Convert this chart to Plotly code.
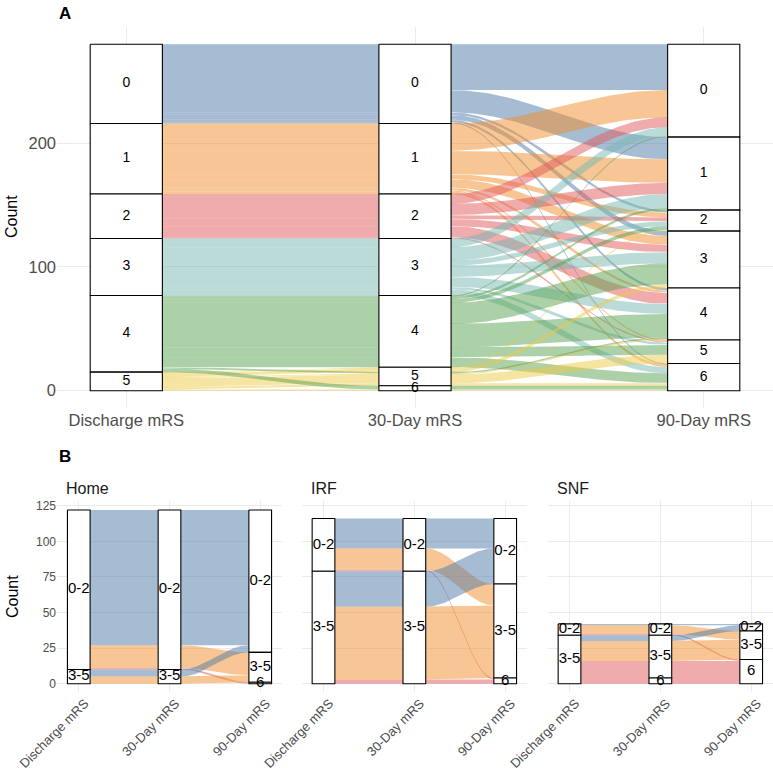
import numpy as np
import plotly.graph_objects as go

W, H = 773, 768

# ---------------- Panel A data (alluvia: discharge -> 30-day -> 90-day) ----------------
mrs_levels = ["0", "1", "2", "3", "4", "5", "6"]
a_axis_labels = ["Discharge mRS", "30-Day mRS", "90-Day mRS"]
a_discharge = ["0", "0", "0", "0", "0", "0",
               "1", "1", "1", "1", "1", "1", "1",
               "2", "2", "2", "2", "2", "2",
               "3", "3", "3", "3", "3", "3", "3",
               "4", "4", "4", "4", "4", "4", "4",
               "5", "5", "5", "5", "5", "4",
               "4", "5"]
a_day30 = ["0", "0", "0", "0", "0", "0",
           "1", "1", "1", "1", "1", "1", "1",
           "2", "2", "2", "2", "2", "2",
           "3", "3", "3", "3", "3", "3", "3",
           "4", "4", "4", "4", "4", "4", "4",
           "5", "5", "5", "5", "5", "5",
           "6", "6"]
a_day90 = ["0", "1", "2", "3", "4", "6",
           "0", "1", "2", "3", "4", "5", "6",
           "0", "1", "2", "3", "4", "5",
           "0", "1", "2", "3", "4", "5", "6",
           "0", "1", "2", "3", "4", "5", "6",
           "2", "3", "4", "5", "6", "4",
           "6", "6"]
a_count = [37, 18, 2, 4, 2, 1,
           22, 19, 4, 7, 2, 1, 2,
           8, 9, 3, 6, 9, 1,
           7, 11, 4, 9, 8, 2, 5,
           1, 2, 3, 17, 19, 8, 8,
           1, 3, 1, 7, 2, 1,
           3, 1]

# ---------------- Panel B data (by discharge destination) ----------------
grp_levels = ["0-2", "3-5", "6"]
b_facets = ["Home", "IRF", "SNF"]
b_discharge = {
    "Home": ["0-2", "0-2", "0-2", "3-5", "3-5"],
    "IRF": ["0-2", "0-2", "0-2", "3-5", "3-5", "3-5"],
    "SNF": ["0-2", "0-2", "0-2", "3-5", "3-5", "3-5", "3-5"],
}
b_day30 = {
    "Home": ["0-2", "0-2", "0-2", "3-5", "3-5"],
    "IRF": ["0-2", "0-2", "0-2", "3-5", "3-5", "3-5"],
    "SNF": ["0-2", "0-2", "0-2", "3-5", "3-5", "3-5", "6"],
}
b_day90 = {
    "Home": ["0-2", "3-5", "6", "0-2", "3-5"],
    "IRF": ["0-2", "3-5", "6", "0-2", "3-5", "6"],
    "SNF": ["0-2", "3-5", "6", "0-2", "3-5", "6", "6"],
}
b_count = {
    "Home": [95, 16, 1, 5, 5],
    "IRF": [21, 15, 1, 25, 51, 3],
    "SNF": [1, 6, 1, 4, 14, 12, 4],
}

tableau = ["#4E79A7", "#F28E2B", "#E15759", "#76B7B2", "#59A14F", "#EDC948", "#B07AA1"]


def rgba(hexc, a):
    h = hexc.lstrip("#")
    return "rgba(%d,%d,%d,%.2f)" % (int(h[0:2], 16), int(h[2:4], 16), int(h[4:6], 16), a)


BOX_HALF = 0.125


def draw_alluvial(fig, cols, counts, levels, colors, xref, yref, label_size):
    """cols: list of 3 lists (axis values per alluvium)."""
    n_all = len(counts)
    total = sum(counts)
    lvl = {v: i for i, v in enumerate(levels)}
    key_orders = [(0, 1, 2), (1, 2, 0), (2, 1, 0)]
    pos = []
    strata = []
    for ax in range(3):
        order = sorted(range(n_all), key=lambda i: tuple(lvl[cols[k][i]] for k in key_orders[ax]))
        p = [None] * n_all
        y = total
        for i in order:
            p[i] = (y, y - counts[i])
            y -= counts[i]
        pos.append(p)
        st = []
        y = total
        for lv in levels:
            c = sum(counts[i] for i in range(n_all) if cols[ax][i] == lv)
            if c > 0:
                st.append((lv, y, y - c))
                y -= c
        strata.append(st)

    t = np.linspace(0, 1, 60)
    s = (1 - np.cos(np.pi * t)) / 2
    for seg in range(2):
        xa = seg + 1 + BOX_HALF
        xb = seg + 2 - BOX_HALF
        xs = xa + (xb - xa) * t
        for i in range(n_all):
            ta, ba = pos[seg][i]
            tb, bb = pos[seg + 1][i]
            top = ta + (tb - ta) * s
            bot = ba + (bb - ba) * s
            x = np.concatenate([[xa - BOX_HALF], xs, [xb + BOX_HALF], [xb + BOX_HALF], xs[::-1], [xa - BOX_HALF]])
            yv = np.concatenate([[ta], top, [tb], [bb], bot[::-1], [ba]])
            fig.add_trace(go.Scatter(
                x=x, y=yv, mode="lines", fill="toself", fillcolor=colors[i],
                line=dict(width=0), hoverinfo="skip", showlegend=False,
                xaxis=xref, yaxis=yref))
    for ax in range(3):
        for lv, top, bot in strata[ax]:
            x0, x1 = ax + 1 - BOX_HALF, ax + 1 + BOX_HALF
            fig.add_trace(go.Scatter(
                x=[x0, x1, x1, x0, x0], y=[top, top, bot, bot, top], mode="lines",
                fill="toself", fillcolor="white", line=dict(color="black", width=1.1),
                hoverinfo="skip", showlegend=False, xaxis=xref, yaxis=yref))
    for ax in range(3):
        fig.add_trace(go.Scatter(
            x=[ax + 1] * len(strata[ax]),
            y=[(top + bot) / 2 for _, top, bot in strata[ax]],
            text=[lv for lv, _, _ in strata[ax]], mode="text",
            textfont=dict(size=label_size, color="black", family="Liberation Sans, Arial"),
            hoverinfo="skip", showlegend=False, xaxis=xref, yaxis=yref, cliponaxis=False))


fig = go.Figure()

a_colors = [rgba(tableau[mrs_levels.index(d)], 0.5) for d in a_discharge]
draw_alluvial(fig, [a_discharge, a_day30, a_day90], a_count, mrs_levels, a_colors, "x", "y", 14)

for k, fac in enumerate(b_facets):
    cols_b = [b_discharge[fac], b_day30[fac], b_day90[fac]]
    colors_b = [rgba(tableau[grp_levels.index(d)], 0.5) for d in b_day90[fac]]
    sfx = str(k + 2)
    draw_alluvial(fig, cols_b, b_count[fac], grp_levels, colors_b, "x" + sfx, "y" + sfx, 15)


def px_x(v):
    return v / W


def px_y(v):
    return 1 - v / H


font_fam = "Liberation Sans, Arial, sans-serif"
grid = "#EBEBEB"
tick_col = "#4D4D4D"

layout = dict(
    width=W, height=H, margin=dict(l=0, r=0, t=0, b=0, autoexpand=False),
    paper_bgcolor="white", plot_bgcolor="white",
    font=dict(family=font_fam, color="black"),
    xaxis=dict(domain=[px_x(57), 1.0], range=[0.76, 3.24], tickvals=[1, 2, 3],
               ticktext=a_axis_labels, showgrid=True, gridcolor=grid, zeroline=False,
               tickfont=dict(size=16.5, color=tick_col), anchor="y", fixedrange=True,
               automargin=False),
    yaxis=dict(domain=[px_y(408), px_y(27)], range=[-14, 294], tickvals=[0, 100, 200],
               showgrid=True, gridcolor=grid, zeroline=False,
               tickfont=dict(size=16.5, color=tick_col), anchor="x", fixedrange=True,
               automargin=False),
)

b_dom = [(57, 282), (301.7, 527), (547.7, 773)]
for k in range(3):
    sfx = str(k + 2)
    layout["xaxis" + sfx] = dict(
        domain=[px_x(b_dom[k][0]), px_x(b_dom[k][1])], range=[0.76, 3.24], tickvals=[1, 2, 3],
        ticktext=a_axis_labels, tickangle=-45, showgrid=True, gridcolor=grid, zeroline=False,
        tickfont=dict(size=13, color=tick_col), anchor="y" + sfx, fixedrange=True,
        automargin=False, ticklabelstandoff=0, ticklabelshift=6)
    layout["yaxis" + sfx] = dict(
        domain=[px_y(692.4), px_y(501.3)], range=[-6.1, 128.1], tickvals=[0, 25, 50, 75, 100, 125],
        showticklabels=(k == 0), showgrid=True, gridcolor=grid, zeroline=False,
        tickfont=dict(size=12, color=tick_col), anchor="x" + sfx, fixedrange=True,
        automargin=False)

annots = [
    dict(text="<b>A</b>", x=px_x(57), y=px_y(2), xanchor="left", yanchor="top", font=dict(size=17)),
    dict(text="<b>B</b>", x=px_x(57), y=px_y(445), xanchor="left", yanchor="top", font=dict(size=17)),
    dict(text="Count", x=px_x(12), y=px_y(217), textangle=-90, xanchor="center", yanchor="middle",
         font=dict(size=16)),
    dict(text="Count", x=px_x(12), y=px_y(597), textangle=-90, xanchor="center", yanchor="middle",
         font=dict(size=16)),
]
for k, fac in enumerate(b_facets):
    annots.append(dict(text=fac, x=px_x(b_dom[k][0] + 7), y=px_y(488), xanchor="left", yanchor="middle",
                       font=dict(size=16, color="#1A1A1A")))
for a in annots:
    a.update(xref="paper", yref="paper", showarrow=False)
layout["annotations"] = annots

fig.update_layout(**layout)
fig.write_html("out.html",
               config={"displayModeBar": False},
               post_script="document.body.style.margin='0';document.body.style.padding='0';"
                           "document.body.style.overflow='hidden';")
